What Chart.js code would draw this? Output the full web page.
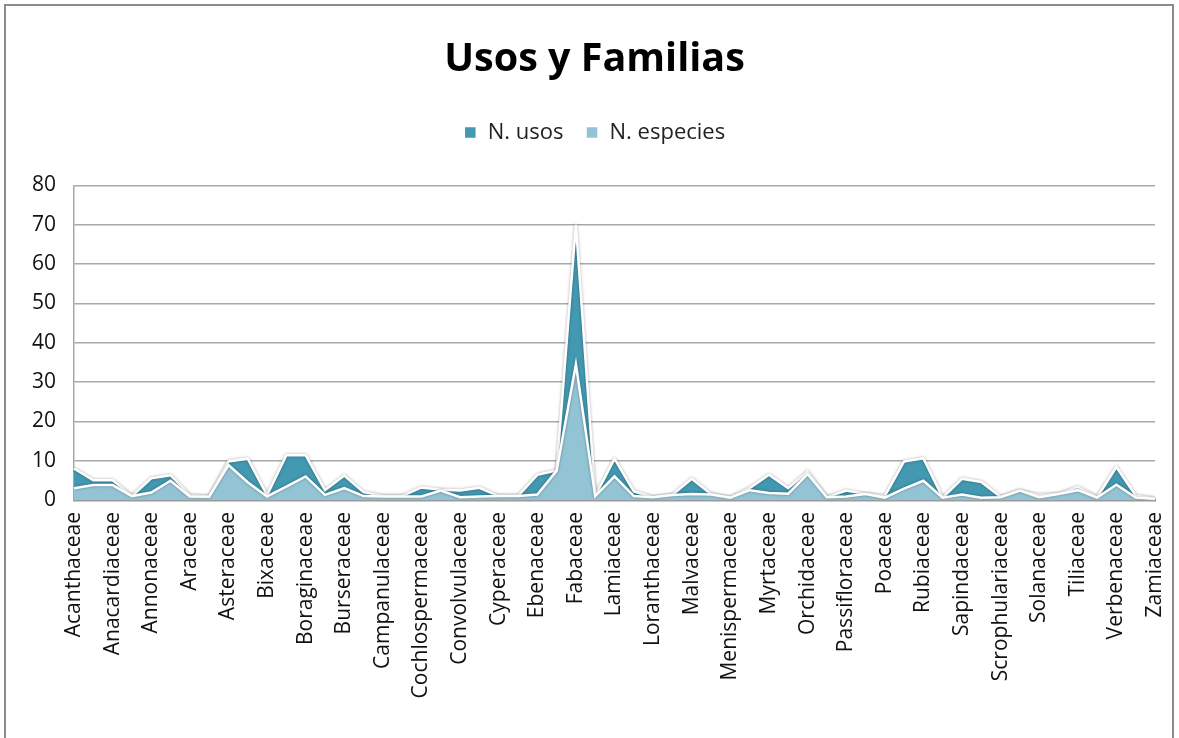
<!DOCTYPE html>
<html>
<head>
<meta charset="utf-8">
<script src="https://cdn.jsdelivr.net/npm/chart.js@4/dist/chart.umd.min.js"></script>
<style>
  html, body { margin: 0; padding: 0; background: #fff; overflow: hidden; }
  #wrap { position: relative; width: 1179px; height: 738px; }
  #frame { position: absolute; left: 4px; top: 4px; width: 1166px; height: 800px; border: 2px solid #8c8c8c; }
  canvas { position: absolute; left: 0; top: 0; }
</style>
</head>
<body>
<div id="wrap">
  <div id="frame"></div>
  <canvas id="chart" width="1179" height="738"></canvas>
</div>
<script>
// familias (solo se rotula una de cada dos, como en el original)
const familias = [
    'Acanthaceae', 'Amaranthaceae', 'Anacardiaceae', 'Anemiaceae', 'Annonaceae', 'Apocynaceae',
    'Araceae', 'Arecaceae', 'Asteraceae', 'Bignoniaceae', 'Bixaceae', 'Bombacaceae',
    'Boraginaceae', 'Bromeliaceae', 'Burseraceae', 'Cactaceae', 'Campanulaceae', 'Caricaceae',
    'Cochlospermaceae', 'Combretaceae', 'Convolvulaceae', 'Cucurbitaceae', 'Cyperaceae', 'Dioscoreaceae',
    'Ebenaceae', 'Euphorbiaceae', 'Fabaceae', 'Flacourtiaceae', 'Lamiaceae', 'Lauraceae',
    'Loranthaceae', 'Malpighiaceae', 'Malvaceae', 'Meliaceae', 'Menispermaceae', 'Moraceae',
    'Myrtaceae', 'Nyctaginaceae', 'Orchidaceae', 'Oxalidaceae', 'Passifloraceae', 'Piperaceae',
    'Poaceae', 'Polygonaceae', 'Rubiaceae', 'Rutaceae', 'Sapindaceae', 'Sapotaceae',
    'Scrophulariaceae', 'Simaroubaceae', 'Solanaceae', 'Sterculiaceae', 'Tiliaceae', 'Urticaceae',
    'Verbenaceae', 'Vitaceae', 'Zamiaceae'
];

const nUsos = [
    8, 5, 5, 1, 5.5, 6.3,
    1.2, 0.8, 9.8, 10.5, 1.2, 11.4,
    11.4, 2.5, 6.2, 2, 1, 1,
    3.2, 2.6, 2.4, 3.1, 1, 1,
    6.4, 7.5, 70, 1, 10.5, 2.2,
    0.7, 1.3, 5.4, 1.5, 0.6, 3,
    6.4, 3, 7.2, 0.7, 2.4, 1.5,
    1, 9.8, 10.6, 0.6, 5.4, 4.6,
    0.8, 2.3, 1.3, 1.5, 3.3, 0.7,
    8.4, 1.1, 0.4
];

const nEspecies = [
    3, 3.8, 3.8, 1, 1.9, 4.9,
    0.9, 0.8, 8.9, 4.5, 0.9, 3.4,
    6, 1.3, 3, 1, 0.9, 0.9,
    0.9, 2.4, 0.7, 0.9, 1, 1,
    1.4, 7.4, 34.5, 1, 6, 1,
    0.7, 1.3, 1.5, 1.4, 0.6, 2.5,
    1.8, 1.6, 6.6, 0.7, 0.9, 1.5,
    0.6, 2.9, 4.9, 0.6, 1.4, 0.6,
    0.7, 2.4, 0.7, 1.5, 2.5, 0.6,
    3.9, 0.6, 0.3
];

const yTicks = [0, 10, 20, 30, 40, 50, 60, 70, 80];

const colUsos = '#4299b1';
const colEspecies = '#93c4d6';
const fuente = "'Open Sans', 'DejaVu Sans', sans-serif";

// sombra gris suave alrededor de los bordes blancos (como el brillo de Excel)
const sombra = {
    id: 'sombra',
    beforeDatasetDraw(chart) {
        const c = chart.ctx;
        c.save();
        c.shadowColor = 'rgba(0,0,0,0.35)';
        c.shadowBlur = 3;
    },
    afterDatasetDraw(chart) {
        chart.ctx.restore();
    }
};

const ctx = document.getElementById('chart').getContext('2d');
const chart = new Chart(ctx, {
    type: 'line',
    data: {
        labels: familias,
        datasets: [
            {
                label: 'N. usos',
                data: nUsos,
                backgroundColor: colUsos,
                borderColor: '#ffffff',
                borderWidth: 2.5,
                fill: 'origin',
                pointRadius: 0,
                tension: 0,
                order: 2
            },
            {
                label: 'N. especies',
                data: nEspecies,
                backgroundColor: colEspecies,
                borderColor: '#ffffff',
                borderWidth: 2.5,
                fill: 'origin',
                pointRadius: 0,
                tension: 0,
                order: 1
            }
        ]
    },
    options: {
        responsive: false,
        animation: false,
        layout: { padding: { left: 20, right: 10, top: 0, bottom: 0 } },
        plugins: {
            title: {
                display: true,
                text: 'Usos y Familias',
                color: '#000',
                font: { family: fuente, size: 39.5, weight: 'bold' },
                padding: { top: 36, bottom: 16 }
            },
            legend: {
                display: true,
                reverse: true,
                weight: 1800,
                labels: {
                    color: '#222',
                    font: { family: fuente, size: 22 },
                    boxWidth: 13,
                    boxHeight: 13,
                    padding: 22
                }
            },
            // hueco entre la leyenda y el área del gráfico
            subtitle: {
                display: true,
                text: ' ',
                font: { size: 10 },
                padding: { top: 0, bottom: 20 }
            },
            tooltip: { enabled: false }
        },
        scales: {
            x: {
                offset: false,
                grid: { display: false, drawTicks: false },
                border: { display: true, color: '#9a9a9a', width: 2.5 },
                afterFit: s => { s.height = 238; s.paddingRight = 24; },
                ticks: {
                    autoSkip: false,
                    maxRotation: 90,
                    minRotation: 90,
                    padding: 12,
                    color: '#111',
                    font: { family: fuente, size: 21 },
                    callback: function (v, i) { return i % 2 === 0 ? this.getLabelForValue(v) : ''; }
                }
            },
            y: {
                min: 0,
                max: 80,
                afterBuildTicks: s => { s.ticks = yTicks.map(v => ({ value: v })); },
                afterFit: s => { s.width = 54; },
                grid: { color: '#a8a8a8', lineWidth: 1.5, drawTicks: false },
                border: { display: true, color: '#a8a8a8', width: 1.5 },
                ticks: {
                    padding: 18,
                    color: '#111',
                    font: { family: fuente, size: 21 }
                }
            }
        }
    },
    plugins: [sombra]
});
</script>
</body>
</html>
